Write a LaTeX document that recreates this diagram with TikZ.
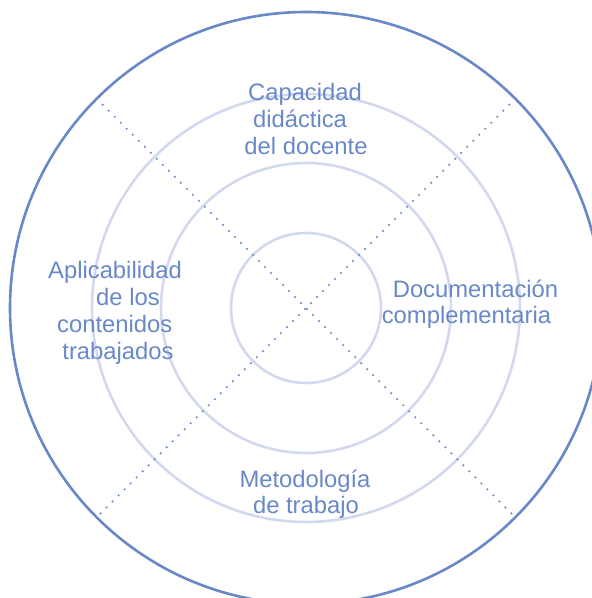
\documentclass[tikz,border=0pt]{standalone}
\usepackage{fontspec}
\setmainfont{Liberation Sans}
\usetikzlibrary{calc}
\definecolor{outerblue}{RGB}{104,136,200}
\definecolor{ringblue}{RGB}{210,217,238}
\begin{document}
\begin{tikzpicture}[x=1pt,y=-1pt,
  ring/.style={draw=ringblue,line width=2.6pt},
  outerring/.style={draw=outerblue,line width=2.6pt},
  diag/.style={draw=outerblue,line width=2.4pt,line cap=round,dash pattern=on 0pt off 8.5pt},
  lbl/.style={text=outerblue,font=\fontsize{23.8}{27}\selectfont,inner sep=0pt,anchor=base}]
\useasboundingbox (0,0) rectangle (592,598);
\coordinate (c) at (306,308);
\draw[outerring] (c) circle[radius=296];
\draw[ring] (c) circle[radius=214];
\draw[ring] (c) circle[radius=145];
\draw[ring] (c) circle[radius=75];
\coordinate (nw) at ($(c)+(-209.3,-209.3)$);
\coordinate (ne) at ($(c)+(209.3,-209.3)$);
\coordinate (sw) at ($(c)+(-209.3,209.3)$);
\coordinate (se) at ($(c)+(209.3,209.3)$);
\draw[diag] (nw) -- (se);
\draw[diag] (ne) -- (sw);
\node[lbl] (t1) at (305,100) {Capacidad};
\node[lbl] (t2) at (300,127) {didáctica};
\node[lbl] (t3) at (306,154) {del docente};
\node[lbl] (r1) at (475.5,297) {Documentación};
\node[lbl] (r2) at (466.5,323) {complementaria};
\node[lbl] (l1) at (115,278) {Aplicabilidad};
\node[lbl] (l2) at (128,305) {de los};
\node[lbl] (l3) at (114.7,332) {contenidos};
\node[lbl] (l4) at (118,359) {trabajados};
\node[lbl] (b1) at (305,487) {Metodología};
\node[lbl] (b2) at (306,513) {de trabajo};
\end{tikzpicture}
\end{document}
